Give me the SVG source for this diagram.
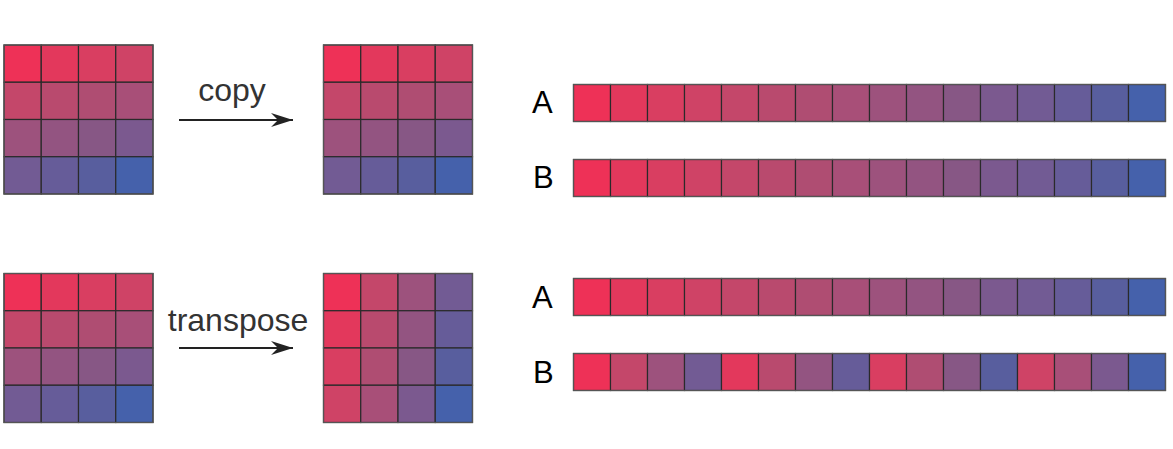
<svg xmlns="http://www.w3.org/2000/svg" width="1173" height="449" viewBox="0 0 1173 449">
<style>
.cell{stroke:#2a2a2a;stroke-width:1.2}
.frame{fill:none;stroke:#555;stroke-width:1.2}
.lbl{font-family:"Liberation Sans",Arial,sans-serif;font-size:31px;fill:#000}
.op{font-family:"Liberation Sans",Arial,sans-serif;fill:#333;text-anchor:middle;font-size:32px}
.arr{stroke:#222;stroke-width:2;fill:none}
.c0{fill:#EE3157}.c1{fill:#E3385C}.c2{fill:#D93E61}.c3{fill:#CF4366}
.c4{fill:#C4476A}.c5{fill:#B94A6E}.c6{fill:#AF4D72}.c7{fill:#A84F78}
.c8{fill:#9D527D}.c9{fill:#935481}.c10{fill:#875785}.c11{fill:#7B598F}
.c12{fill:#725B94}.c13{fill:#665C99}.c14{fill:#585E9E}.c15{fill:#4561AB}
</style>
<defs>
<marker id="ah" markerWidth="24" markerHeight="14" refX="22" refY="7" orient="auto" markerUnits="userSpaceOnUse">
<path d="M0,0 L22,7 L0,14 L7,7 Z" fill="#222"/>
</marker>
<g id="grid">
<rect class="cell c0" x="0" y="0" width="37.25" height="37.25"/>
<rect class="cell c1" x="37.25" y="0" width="37.25" height="37.25"/>
<rect class="cell c2" x="74.5" y="0" width="37.25" height="37.25"/>
<rect class="cell c3" x="111.75" y="0" width="37.25" height="37.25"/>
<rect class="cell c4" x="0" y="37.25" width="37.25" height="37.25"/>
<rect class="cell c5" x="37.25" y="37.25" width="37.25" height="37.25"/>
<rect class="cell c6" x="74.5" y="37.25" width="37.25" height="37.25"/>
<rect class="cell c7" x="111.75" y="37.25" width="37.25" height="37.25"/>
<rect class="cell c8" x="0" y="74.5" width="37.25" height="37.25"/>
<rect class="cell c9" x="37.25" y="74.5" width="37.25" height="37.25"/>
<rect class="cell c10" x="74.5" y="74.5" width="37.25" height="37.25"/>
<rect class="cell c11" x="111.75" y="74.5" width="37.25" height="37.25"/>
<rect class="cell c12" x="0" y="111.75" width="37.25" height="37.25"/>
<rect class="cell c13" x="37.25" y="111.75" width="37.25" height="37.25"/>
<rect class="cell c14" x="74.5" y="111.75" width="37.25" height="37.25"/>
<rect class="cell c15" x="111.75" y="111.75" width="37.25" height="37.25"/>
<rect class="frame" x="0" y="0" width="149" height="149"/>
</g>
<g id="gridT">
<rect class="cell c0" x="0" y="0" width="37.25" height="37.25"/>
<rect class="cell c4" x="37.25" y="0" width="37.25" height="37.25"/>
<rect class="cell c8" x="74.5" y="0" width="37.25" height="37.25"/>
<rect class="cell c12" x="111.75" y="0" width="37.25" height="37.25"/>
<rect class="cell c1" x="0" y="37.25" width="37.25" height="37.25"/>
<rect class="cell c5" x="37.25" y="37.25" width="37.25" height="37.25"/>
<rect class="cell c9" x="74.5" y="37.25" width="37.25" height="37.25"/>
<rect class="cell c13" x="111.75" y="37.25" width="37.25" height="37.25"/>
<rect class="cell c2" x="0" y="74.5" width="37.25" height="37.25"/>
<rect class="cell c6" x="37.25" y="74.5" width="37.25" height="37.25"/>
<rect class="cell c10" x="74.5" y="74.5" width="37.25" height="37.25"/>
<rect class="cell c14" x="111.75" y="74.5" width="37.25" height="37.25"/>
<rect class="cell c3" x="0" y="111.75" width="37.25" height="37.25"/>
<rect class="cell c7" x="37.25" y="111.75" width="37.25" height="37.25"/>
<rect class="cell c11" x="74.5" y="111.75" width="37.25" height="37.25"/>
<rect class="cell c15" x="111.75" y="111.75" width="37.25" height="37.25"/>
<rect class="frame" x="0" y="0" width="149" height="149"/>
</g>
<g id="strip">
<rect class="cell c0" x="0" y="0" width="37" height="37"/>
<rect class="cell c1" x="37" y="0" width="37" height="37"/>
<rect class="cell c2" x="74" y="0" width="37" height="37"/>
<rect class="cell c3" x="111" y="0" width="37" height="37"/>
<rect class="cell c4" x="148" y="0" width="37" height="37"/>
<rect class="cell c5" x="185" y="0" width="37" height="37"/>
<rect class="cell c6" x="222" y="0" width="37" height="37"/>
<rect class="cell c7" x="259" y="0" width="37" height="37"/>
<rect class="cell c8" x="296" y="0" width="37" height="37"/>
<rect class="cell c9" x="333" y="0" width="37" height="37"/>
<rect class="cell c10" x="370" y="0" width="37" height="37"/>
<rect class="cell c11" x="407" y="0" width="37" height="37"/>
<rect class="cell c12" x="444" y="0" width="37" height="37"/>
<rect class="cell c13" x="481" y="0" width="37" height="37"/>
<rect class="cell c14" x="518" y="0" width="37" height="37"/>
<rect class="cell c15" x="555" y="0" width="37" height="37"/>
<rect class="frame" x="0" y="0" width="592" height="37"/>
</g>
<g id="stripT">
<rect class="cell c0" x="0" y="0" width="37" height="37"/>
<rect class="cell c4" x="37" y="0" width="37" height="37"/>
<rect class="cell c8" x="74" y="0" width="37" height="37"/>
<rect class="cell c12" x="111" y="0" width="37" height="37"/>
<rect class="cell c1" x="148" y="0" width="37" height="37"/>
<rect class="cell c5" x="185" y="0" width="37" height="37"/>
<rect class="cell c9" x="222" y="0" width="37" height="37"/>
<rect class="cell c13" x="259" y="0" width="37" height="37"/>
<rect class="cell c2" x="296" y="0" width="37" height="37"/>
<rect class="cell c6" x="333" y="0" width="37" height="37"/>
<rect class="cell c10" x="370" y="0" width="37" height="37"/>
<rect class="cell c14" x="407" y="0" width="37" height="37"/>
<rect class="cell c3" x="444" y="0" width="37" height="37"/>
<rect class="cell c7" x="481" y="0" width="37" height="37"/>
<rect class="cell c11" x="518" y="0" width="37" height="37"/>
<rect class="cell c15" x="555" y="0" width="37" height="37"/>
<rect class="frame" x="0" y="0" width="592" height="37"/>
</g>
</defs>
<rect width="1173" height="449" fill="#fff"/>
<g id="copy-src"><use href="#grid" x="4" y="45"/></g>
<g id="copy-dst"><use href="#grid" x="323.5" y="45"/></g>
<g id="transpose-src"><use href="#grid" x="4" y="273.5"/></g>
<g id="transpose-dst"><use href="#gridT" x="323.5" y="273.5"/></g>
<g id="copy-A"><text class="lbl" x="532" y="113">A</text><use href="#strip" x="573.5" y="84.5"/></g>
<g id="copy-B"><text class="lbl" x="533" y="188">B</text><use href="#strip" x="573.5" y="159.5"/></g>
<g id="transpose-A"><text class="lbl" x="532" y="308">A</text><use href="#strip" x="573.5" y="278.5"/></g>
<g id="transpose-B"><text class="lbl" x="533" y="383">B</text><use href="#stripT" x="573.5" y="353.5"/></g>
<g id="connectors">
<line class="arr" x1="179" y1="120" x2="293" y2="120" marker-end="url(#ah)"/>
<text class="op" x="232" y="101">copy</text>
<line class="arr" x1="179" y1="348" x2="293" y2="348" marker-end="url(#ah)"/>
<text class="op" x="238" y="331">transpose</text>
</g>
</svg>
